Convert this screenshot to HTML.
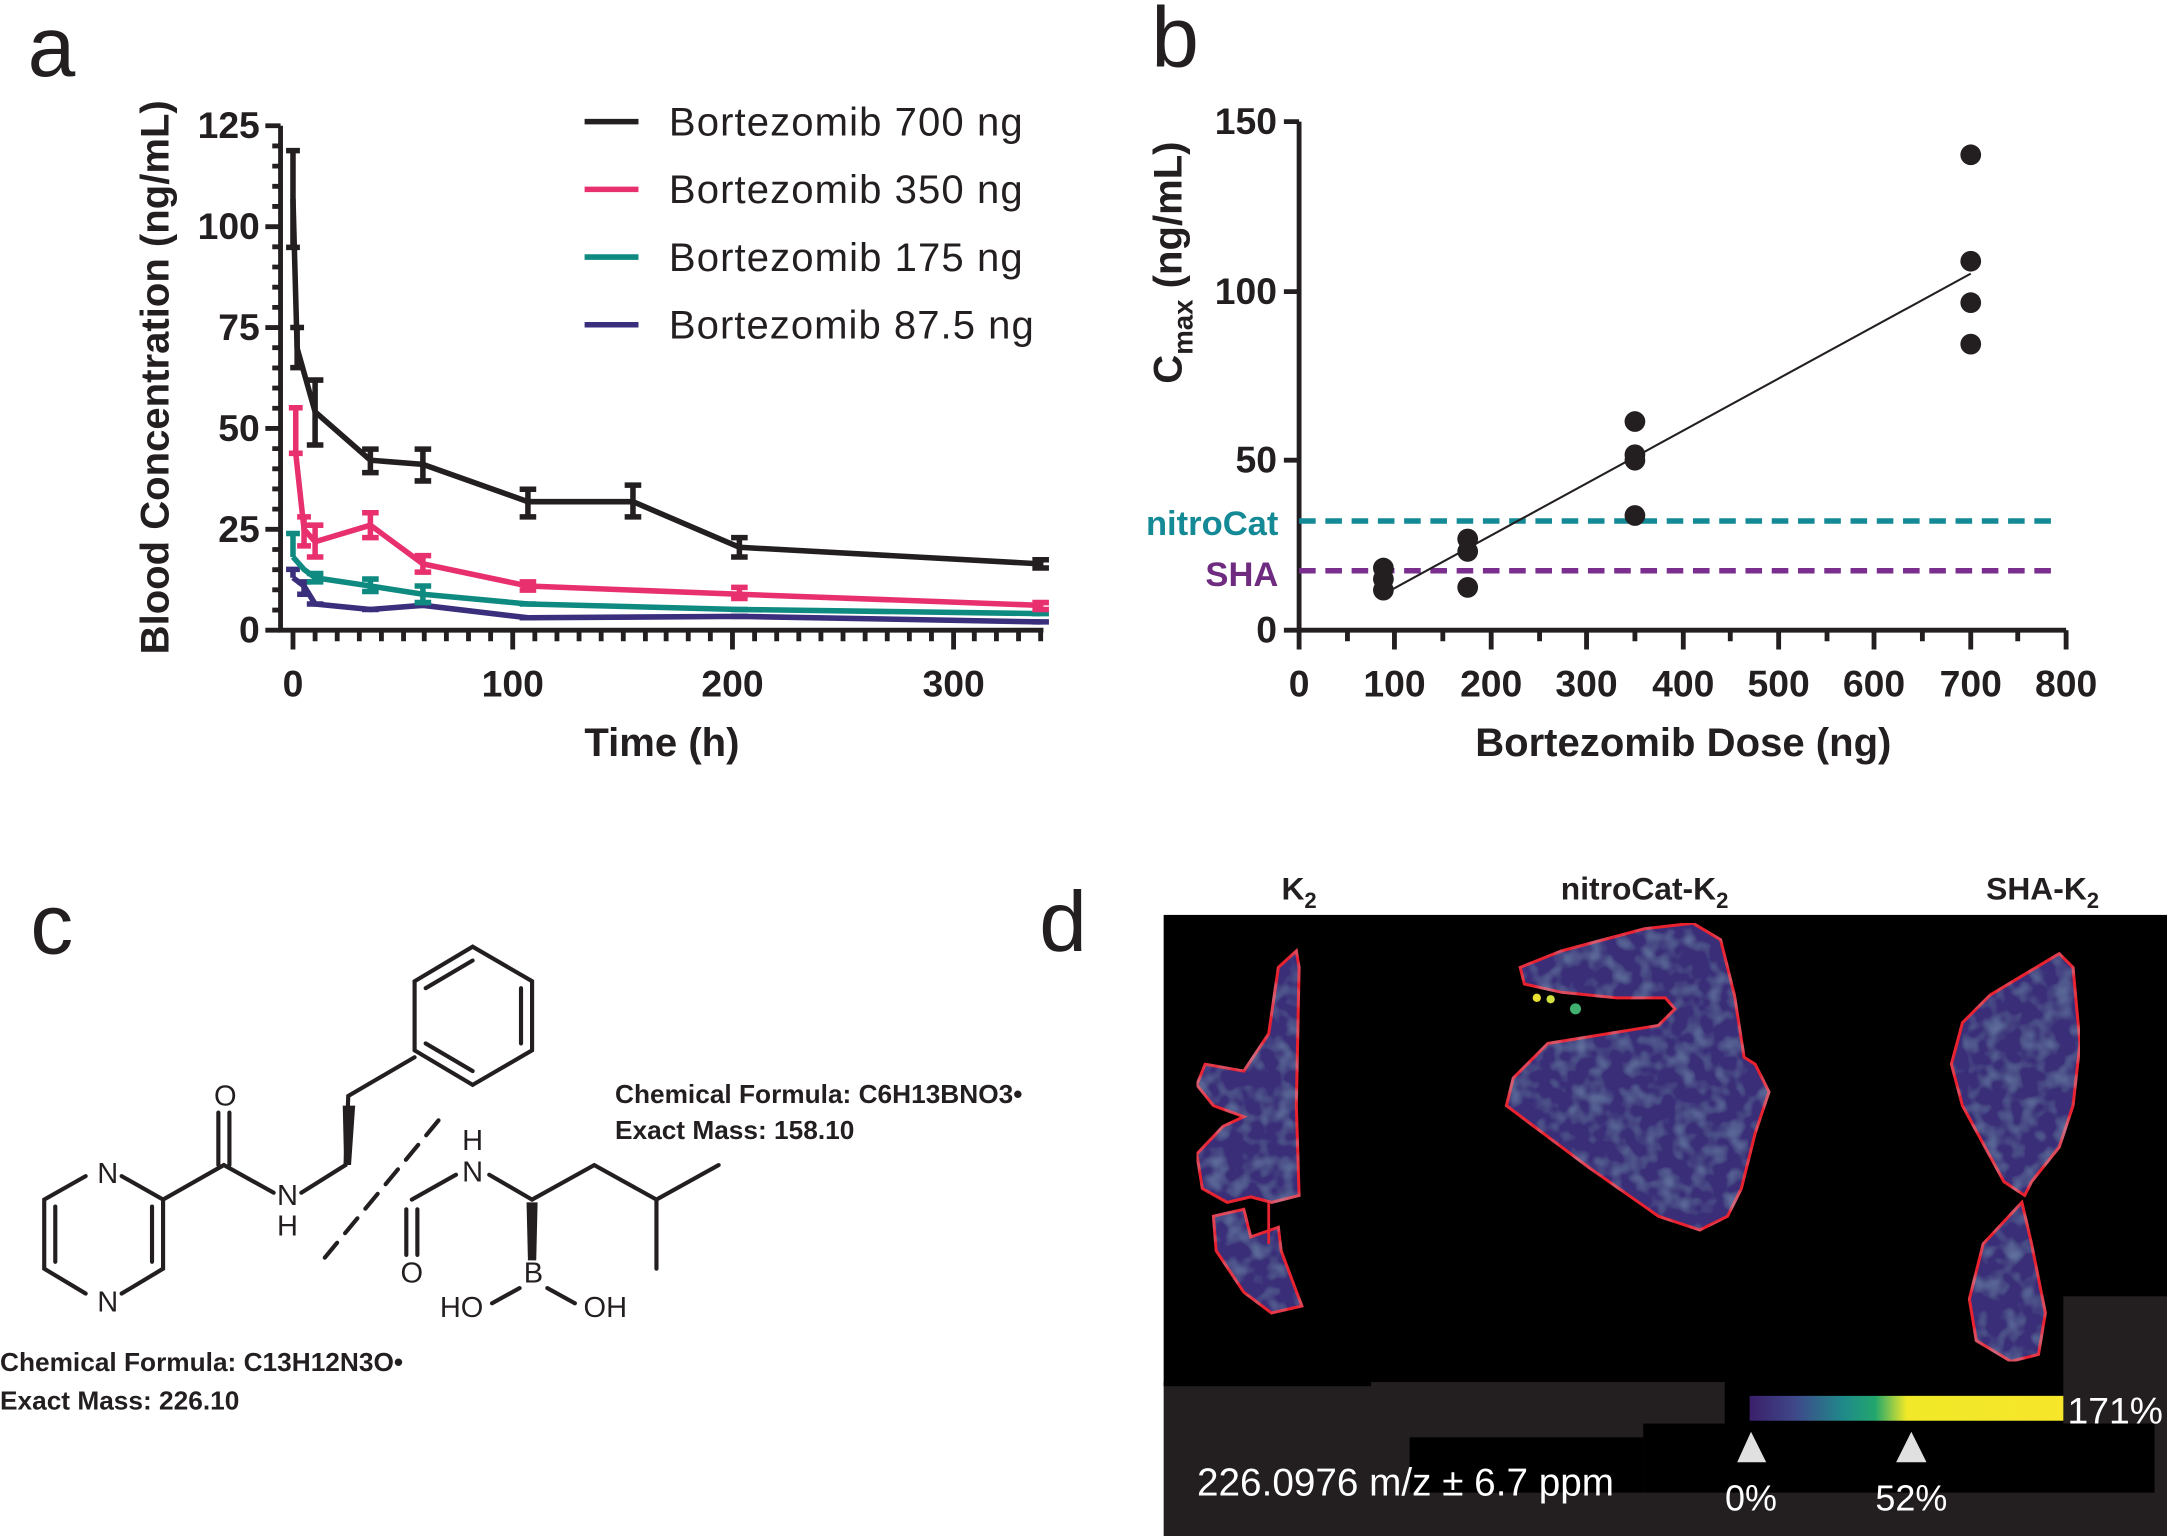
<!DOCTYPE html>
<html><head><meta charset="utf-8"><style>
html,body{margin:0;padding:0;background:#fff;}
svg{display:block;}
text{font-family:"Liberation Sans",sans-serif;}
.tk{font-family:"Liberation Sans Narrow","Liberation Sans",sans-serif;font-weight:bold;font-size:27px;fill:#231f20;}
.lb{font-weight:bold;font-size:29px;fill:#231f20;}
.ax{stroke:#231f20;stroke-width:3.5;fill:none;}
</style></head><body>
<svg width="2167" height="1536" viewBox="0 0 1568 1111.4" preserveAspectRatio="none" xmlns="http://www.w3.org/2000/svg">
<rect width="1568" height="1112" fill="#fff"/>
<text x="20" y="55" font-size="62" fill="#231f20">a</text>
<text x="833" y="48" font-size="62" fill="#231f20">b</text>
<text x="22" y="690" font-size="62" fill="#231f20">c</text>
<text x="752" y="688" font-size="62" fill="#231f20">d</text>

<!-- ===== Panel a ===== -->
<g class="ax">
<path d="M203 91 V456 H755"/>
<path d="M192 91H203 M192 164H203 M192 237H203 M192 310H203 M192 383H203 M192 456H203"/>
<path d="M197 105.6H203M197 120.2H203M197 134.8H203M197 149.4H203M197 178.6H203M197 193.2H203M197 207.8H203M197 222.4H203M197 251.6H203M197 266.2H203M197 280.8H203M197 295.4H203M197 324.6H203M197 339.2H203M197 353.8H203M197 368.4H203M197 397.6H203M197 412.2H203M197 426.8H203M197 441.4H203"/>
<path d="M212 456V470M371 456V470M530 456V470M690 456V470"/>
<path d="M228 456V464M244 456V464M260 456V464M276 456V464M292 456V464M307 456V464M323 456V464M339 456V464M355 456V464M387 456V464M403 456V464M419 456V464M435 456V464M451 456V464M467 456V464M482 456V464M498 456V464M514 456V464M546 456V464M562 456V464M578 456V464M594 456V464M610 456V464M626 456V464M642 456V464M658 456V464M674 456V464M705 456V464M721 456V464M737 456V464M753 456V464"/>
</g>
<text class="tk" x="188" y="100" text-anchor="end">125</text>
<text class="tk" x="188" y="173" text-anchor="end">100</text>
<text class="tk" x="188" y="246" text-anchor="end">75</text>
<text class="tk" x="188" y="319" text-anchor="end">50</text>
<text class="tk" x="188" y="392" text-anchor="end">25</text>
<text class="tk" x="188" y="465" text-anchor="end">0</text>
<text class="tk" x="212" y="504" text-anchor="middle">0</text>
<text class="tk" x="371" y="504" text-anchor="middle">100</text>
<text class="tk" x="530" y="504" text-anchor="middle">200</text>
<text class="tk" x="690" y="504" text-anchor="middle">300</text>
<text class="lb" x="479" y="547" text-anchor="middle">Time (h)</text>
<text class="lb" transform="translate(122,273) rotate(-90)" text-anchor="middle">Blood Concentration (ng/mL)</text>
<g stroke-width="4">
<line x1="423" y1="88" x2="462" y2="88" stroke="#231f20"/>
<line x1="423" y1="137" x2="462" y2="137" stroke="#e8306f"/>
<line x1="423" y1="186" x2="462" y2="186" stroke="#0e8a80"/>
<line x1="423" y1="235" x2="462" y2="235" stroke="#3a2f7c"/>
</g>
<g font-size="29" fill="#231f20">
<text x="484" y="98" textLength="256">Bortezomib 700 ng</text>
<text x="484" y="147" textLength="256">Bortezomib 350 ng</text>
<text x="484" y="196" textLength="256">Bortezomib 175 ng</text>
<text x="484" y="245" textLength="264">Bortezomib 87.5 ng</text>
</g>
<g stroke="#3a2f7c" stroke-width="4" fill="none">
<polyline points="212,418 220,424 228,437 268,441 306,438 382,447 535,446 753,450"/>
<path d="M212 418V412M207 412H217 M220 421V430M215 421H225M215 430H225 M222 437H234M262 441H274M300 438H312M376 447H388M529 446H541M747 450H759"/>
</g>
<g stroke="#0e8a80" stroke-width="4" fill="none">
<polyline points="212,403 220,412 228,418 268,424 306,430 382,437 535,441 753,444"/>
<path d="M212 403V386M207 386H217 M228 415V421M222 415H234M222 421H234 M268 419V428M262 419H274M262 428H274 M306 424V436M300 424H312M300 436H312 M376 437H388M529 441H541M747 444H759"/>
</g>
<g stroke="#e8306f" stroke-width="4" fill="none">
<polyline points="214,328 220,383 228,392 268,380 306,408 382,424 535,430 753,438"/>
<path d="M214 328V295M209 295H219M209 328H219 M220 374V395M215 374H225M215 395H225 M228 380V403M222 380H234M222 403H234 M268 371V389M262 371H274M262 389H274 M306 402V414M300 402H312M300 414H312 M382 421V427M376 421H388M376 427H388 M535 425V433M529 425H541M529 433H541 M753 436V441M747 436H759M747 441H759"/>
</g>
<g stroke="#231f20" stroke-width="4" fill="none">
<polyline points="212,144 215,252 228,298 268,333 306,336 382,363 458,363 535,396 753,408"/>
<path d="M212 109V179M207 109H217M207 179H217 M215 237V266M210 237H220M210 266H220 M228 275V322M222 275H234M222 322H234 M268 325V342M262 325H274M262 342H274 M306 325V348M300 325H312M300 348H312 M382 354V374M376 354H388M376 374H388 M458 351V374M452 351H464M452 374H464 M535 389V403M529 389H541M529 403H541 M753 405V411M747 405H759M747 411H759"/>
</g>

<!-- ===== Panel b ===== -->
<g class="ax">
<path d="M940 88 V456 H1495"/>
<path d="M929 88H940M929 211H940M929 333H940M929 456H940"/>
<path d="M940 456V470M1009 456V470M1079 456V470M1148 456V470M1218 456V470M1287 456V470M1356 456V470M1426 456V470M1495 456V470"/>
<path d="M975 456V464M1044 456V464M1114 456V464M1183 456V464M1252 456V464M1322 456V464M1391 456V464M1460 456V464"/>
</g>
<text class="tk" x="924" y="97" text-anchor="end">150</text>
<text class="tk" x="924" y="220" text-anchor="end">100</text>
<text class="tk" x="924" y="342" text-anchor="end">50</text>
<text class="tk" x="924" y="465" text-anchor="end">0</text>
<g class="tk" text-anchor="middle">
<text x="940" y="504">0</text><text x="1009" y="504">100</text><text x="1079" y="504">200</text><text x="1148" y="504">300</text><text x="1218" y="504">400</text><text x="1287" y="504">500</text><text x="1356" y="504">600</text><text x="1426" y="504">700</text><text x="1495" y="504">800</text>
</g>
<text class="lb" x="1218" y="547" text-anchor="middle">Bortezomib Dose (ng)</text>
<text class="lb" transform="translate(855,190) rotate(-90)" text-anchor="middle">C<tspan font-size="20" dy="8">max</tspan><tspan dy="-8"> (ng/mL)</tspan></text>
<line x1="940" y1="377" x2="1487" y2="377" stroke="#148a96" stroke-width="4" stroke-dasharray="12,7"/>
<line x1="940" y1="413" x2="1487" y2="413" stroke="#7a2e8e" stroke-width="4" stroke-dasharray="12,7"/>
<text x="925" y="387" text-anchor="end" font-weight="bold" font-size="25" fill="#148a96" font-family="Liberation Sans Narrow, Liberation Sans, sans-serif">nitroCat</text>
<text x="925" y="424" text-anchor="end" font-weight="bold" font-size="25" fill="#6e2b80" font-family="Liberation Sans Narrow, Liberation Sans, sans-serif">SHA</text>
<line x1="1001" y1="430" x2="1426" y2="198" stroke="#231f20" stroke-width="1.5"/>
<g fill="#231f20">
<circle cx="1001" cy="411" r="7.5"/><circle cx="1001" cy="419" r="7.5"/><circle cx="1001" cy="427" r="7.5"/>
<circle cx="1062" cy="390" r="7.5"/><circle cx="1062" cy="399" r="7.5"/><circle cx="1062" cy="425" r="7.5"/>
<circle cx="1183" cy="305" r="7.5"/><circle cx="1183" cy="329" r="7.5"/><circle cx="1183" cy="333" r="7.5"/><circle cx="1183" cy="373" r="7.5"/>
<circle cx="1426" cy="112" r="7.5"/><circle cx="1426" cy="189" r="7.5"/><circle cx="1426" cy="219" r="7.5"/><circle cx="1426" cy="249" r="7.5"/>
</g>

<!-- ===== Panel c ===== -->
<g stroke="#231f20" stroke-width="3" fill="none" stroke-linecap="round">
<path d="M118 868 V918 L88 936 M62 936 L32 918 V868 L62 851 M88 851 L118 868"/>
<path d="M110 873V913 M40 873V913"/>
<path d="M118 868 L162 843 L198 863"/>
<path d="M158 843V805 M166 843V805"/>
<path d="M218 863 L250 843 L252 793 L300 765"/>
<path d="M300 760 V710 L342 685 L385 710 V760 L342 785 Z"/>
<path d="M308 715 L342 695 M377 715 V755 M342 775 L308 755"/>
<path d="M298 868 L330 850 M354 850 L385 868 L430 843 L475 868 V918 M475 868 L520 843"/>
<path d="M294 875V908 M302 875V908"/>
<path d="M376 932 L356 943 M396 932 L416 943"/>
<path d="M235 910 L322 805" stroke-dasharray="14,9"/>
</g>
<path d="M381 870 L389 870 L388 912 L382 912 Z" fill="#231f20"/>
<path d="M249 843 L254 843 L257 800 L248 800 Z" fill="#231f20"/>
<g font-size="21" fill="#231f20" text-anchor="middle">
<text x="78" y="856">N</text><text x="78" y="949">N</text>
<text x="163" y="800">O</text>
<text x="208" y="872">N</text><text x="208" y="894">H</text>
<text x="298" y="928">O</text>
<text x="342" y="832">H</text><text x="342" y="855">N</text>
<text x="386" y="928">B</text>
<text x="334" y="953">HO</text><text x="438" y="953">OH</text>
</g>
<g font-weight="bold" font-size="19" fill="#231f20">
<text x="445" y="798">Chemical Formula: C6H13BNO3•</text>
<text x="445" y="824">Exact Mass: 158.10</text>
<text x="0" y="992">Chemical Formula: C13H12N3O•</text>
<text x="0" y="1020">Exact Mass: 226.10</text>
</g>

<!-- ===== Panel d ===== -->
<g font-weight="bold" font-size="23" fill="#231f20" text-anchor="middle" font-family="Liberation Sans Narrow, Liberation Sans, sans-serif">
<text x="940" y="651">K<tspan font-size="16" dy="6">2</tspan></text>
<text x="1190" y="651">nitroCat-K<tspan font-size="16" dy="6">2</tspan></text>
<text x="1478" y="651">SHA-K<tspan font-size="16" dy="6">2</tspan></text>
</g>
<rect x="842" y="662" width="726" height="340" fill="#000"/>
<rect x="842" y="1000" width="726" height="112" fill="#231f20"/>
<rect x="1493" y="938" width="75" height="92" fill="#231f20"/>
<rect x="1248" y="1000" width="245" height="30" fill="#000"/>
<rect x="1020" y="1040" width="169" height="40" fill="#000"/>
<rect x="1189" y="1030" width="370" height="50" fill="#000"/>
<rect x="842" y="1000" width="150" height="3" fill="#000"/>
<defs>
<linearGradient id="vir" x1="0" x2="1">
<stop offset="0" stop-color="#3b1f6b"/><stop offset="0.15" stop-color="#3e4a8a"/><stop offset="0.3" stop-color="#1f8a8a"/><stop offset="0.4" stop-color="#22a66d"/><stop offset="0.5" stop-color="#f0e828"/><stop offset="1" stop-color="#f7e62a"/>
</linearGradient>
<filter id="nz" x="0" y="0" width="100%" height="100%">
<feTurbulence type="fractalNoise" baseFrequency="0.08" numOctaves="2" seed="3"/>
<feColorMatrix values="0 0 0 0 0.25  0 0 0 0 0.4  0 0 0 0 0.6  0 0 0 0.8 -0.35"/>
<feComposite in2="SourceGraphic" operator="in"/>
<feMerge><feMergeNode in="SourceGraphic"/><feMergeNode/></feMerge>
</filter>
</defs>
<rect x="1266" y="1010" width="227" height="18" fill="url(#vir)"/>
<g fill="#3a2f78" stroke="#e8232f" stroke-width="2.2" filter="url(#nz)">
<path d="M866 785 L872 770 L900 775 L918 748 L925 700 L938 688 L940 700 L938 800 L940 865 L920 870 L905 866 L888 870 L870 860 L866 835 L885 815 L900 808 L878 800 Z"/>
<path d="M878 880 L900 875 L905 895 L925 888 L927 905 L942 945 L920 950 L900 935 L880 905 Z"/>
<path d="M1100 700 L1130 688 L1190 672 L1225 668 L1245 680 L1255 720 L1262 765 L1270 770 L1280 790 L1270 820 L1260 860 L1250 880 L1230 890 L1200 880 L1150 845 L1110 815 L1090 800 L1095 780 L1120 755 L1200 742 L1212 730 L1205 722 L1170 722 L1130 718 L1103 712 Z"/>
<path d="M1440 720 L1490 690 L1500 700 L1505 755 L1500 800 L1490 830 L1470 855 L1465 865 L1450 855 L1420 800 L1412 770 L1420 740 Z"/>
<path d="M1463 870 L1470 900 L1480 950 L1475 980 L1455 985 L1430 970 L1425 940 L1435 900 Z"/>
</g>
<line x1="918" y1="870" x2="918" y2="900" stroke="#e8232f" stroke-width="2"/>
<circle cx="1112" cy="722" r="3" fill="#e8e030"/><circle cx="1122" cy="723" r="3" fill="#d0e040"/><circle cx="1140" cy="730" r="4" fill="#40b070"/>
<g fill="#fff" font-family="Liberation Sans Narrow, Liberation Sans, sans-serif">
<text x="1496" y="1030" font-size="27">171%</text>
<text x="1017" y="1082" font-size="28" text-anchor="middle">226.0976 m/z ± 6.7 ppm</text>
<text x="1267" y="1093" font-size="26" text-anchor="middle">0%</text>
<text x="1383" y="1093" font-size="26" text-anchor="middle">52%</text>
</g>
<path d="M1257 1058 L1267 1036 L1278 1058 Z M1372 1058 L1383 1036 L1394 1058 Z" fill="#e0e0e0"/>
</svg>
</body></html>
